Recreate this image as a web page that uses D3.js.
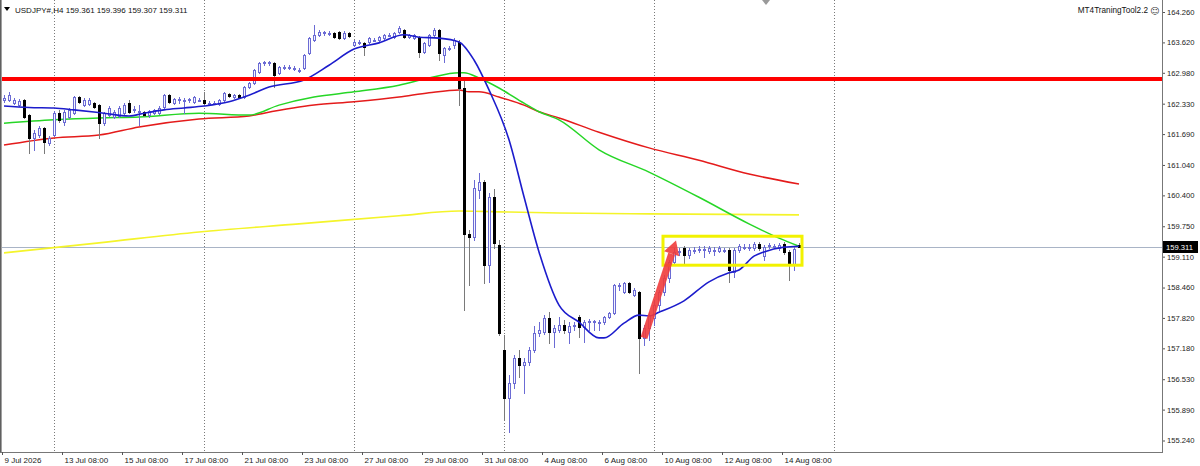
<!DOCTYPE html>
<html><head><meta charset="utf-8">
<script src="https://cdn.jsdelivr.net/npm/d3@7/dist/d3.min.js"></script>
<style>html,body{margin:0;padding:0;background:#fff;}svg{display:block;}</style>
</head><body>
<svg id="c" width="1200" height="466"></svg>
<script>
const symbolTitle = "USDJPY#,H4";
const lastOHLC = [159.361, 159.396, 159.307, 159.311];
const toolName = "MT4TraningTool2.2";

const candleOpen = [162.41,162.41,162.34,162.30,162.41,162.09,161.61,161.67,161.82,161.50,
161.67,162.13,161.94,162.05,162.13,162.47,162.30,162.32,162.34,162.30,
161.92,162.09,162.05,162.07,162.13,162.34,162.20,162.16,162.16,162.09,
162.13,162.13,162.26,162.51,162.34,162.41,162.41,162.41,162.37,162.41,
162.41,162.34,162.34,162.32,162.41,162.53,162.47,162.51,162.47,162.68,
162.77,163.00,163.19,163.19,163.19,162.98,163.10,163.10,163.08,163.04,
163.08,163.40,163.67,163.78,163.82,163.82,163.82,163.84,163.71,163.82,
163.57,163.63,163.61,163.63,163.67,163.67,163.71,163.78,163.73,163.84,
163.88,163.73,163.71,163.73,163.42,163.57,163.78,163.88,163.36,163.48,
163.57,163.63,162.66,159.59,159.52,160.51,160.68,158.93,160.36,159.36,
157.14,156.14,156.45,156.98,156.83,156.89,157.14,157.50,157.52,157.82,
157.52,157.57,157.67,157.52,157.67,157.84,157.63,157.76,157.74,157.74,
157.74,157.84,157.92,158.51,158.37,158.55,158.30,158.37,157.40,157.61,
157.82,158.09,158.37,158.66,159.00,159.21,159.29,159.15,159.25,159.25,
159.27,159.23,159.25,159.23,159.25,159.25,158.79,159.25,159.31,159.31,
159.29,159.38,159.12,159.36,159.33,159.29,159.38,159.21,158.93,159.361];
const candleHigh = [162.51,162.58,162.45,162.43,162.43,162.11,161.78,161.86,161.84,161.65,
162.18,162.20,162.20,162.24,162.49,162.49,162.45,162.45,162.37,162.32,
162.16,162.28,162.20,162.28,162.34,162.41,162.28,162.30,162.18,162.20,
162.22,162.28,162.53,162.53,162.45,162.47,162.45,162.45,162.49,162.45,
162.58,162.39,162.39,162.43,162.58,162.56,162.53,162.53,162.70,162.79,
163.06,163.21,163.23,163.23,163.21,163.12,163.14,163.14,163.12,163.08,
163.38,163.73,163.99,163.88,163.86,163.86,163.84,163.86,163.86,163.84,
163.67,163.67,163.63,163.73,163.71,163.76,163.80,163.82,163.84,163.97,
163.90,163.80,163.80,163.76,163.63,163.80,163.92,163.90,163.52,163.54,
163.71,163.67,162.89,159.67,160.72,160.87,160.72,160.45,160.53,159.46,
157.46,156.62,157.04,157.14,156.98,157.21,157.65,157.74,157.88,157.94,
157.67,157.84,157.78,157.74,157.74,157.88,157.78,157.80,157.78,157.78,
157.86,157.94,158.53,158.55,158.58,158.58,158.45,158.39,157.67,157.94,
158.20,158.41,158.72,159.04,159.29,159.29,159.33,159.29,159.31,159.33,
159.33,159.33,159.31,159.33,159.29,159.29,159.29,159.38,159.38,159.38,
159.42,159.42,159.36,159.40,159.38,159.40,159.42,159.25,159.31,159.396];
const candleLow = [162.37,162.39,162.32,162.28,162.03,161.29,161.36,161.63,161.29,161.46,
161.65,161.94,161.88,162.03,162.11,162.34,162.28,162.30,162.24,161.61,
161.88,162.07,162.03,162.05,162.11,162.13,162.16,161.88,162.07,162.05,
162.11,162.11,162.24,162.34,162.32,162.34,162.13,162.37,162.34,162.39,
162.32,162.30,162.32,162.30,162.39,162.47,162.45,162.45,162.45,162.66,
162.74,162.98,163.14,163.14,162.68,162.96,163.06,163.06,163.04,163.00,
163.06,163.38,163.65,163.76,163.78,163.78,163.71,163.69,163.69,163.73,
163.54,163.59,163.36,163.61,163.65,163.65,163.69,163.76,163.71,163.82,
163.71,163.71,163.69,163.31,163.40,163.54,163.76,163.25,163.21,163.46,
163.50,162.30,157.99,158.51,159.46,160.34,158.55,158.58,159.29,157.46,
155.67,155.42,156.34,156.58,156.24,156.83,157.10,157.44,157.48,157.29,
157.21,157.52,157.50,157.29,157.57,157.42,157.31,157.57,157.57,157.57,
157.69,157.82,157.90,158.41,158.35,158.35,158.28,156.66,157.25,157.36,
157.67,157.99,158.30,158.58,158.93,159.15,158.98,159.08,159.19,159.21,
159.10,159.19,159.15,159.21,159.21,158.58,158.68,159.21,159.27,159.25,
159.25,159.25,159.04,159.29,159.29,159.25,159.17,158.62,158.83,159.307];
const candleClose = [162.45,162.51,162.41,162.39,162.05,161.61,161.71,161.82,161.52,161.61,
162.13,161.99,162.16,162.20,162.47,162.37,162.41,162.41,162.26,161.92,
162.13,162.24,162.16,162.24,162.30,162.16,162.21,162.18,162.09,162.18,
162.20,162.24,162.51,162.37,162.43,162.42,162.41,162.42,162.47,162.41,
162.34,162.35,162.34,162.41,162.56,162.49,162.51,162.47,162.68,162.77,
163.04,163.19,163.20,163.21,162.93,163.10,163.11,163.10,163.09,163.04,
163.36,163.71,163.78,163.84,163.83,163.82,163.73,163.71,163.82,163.76,
163.63,163.63,163.52,163.71,163.67,163.73,163.78,163.78,163.82,163.92,
163.73,163.78,163.78,163.42,163.61,163.78,163.88,163.40,163.50,163.50,
163.67,162.66,159.59,159.52,160.55,160.68,158.93,160.36,159.40,157.50,
156.14,156.45,156.98,156.83,156.89,157.14,157.50,157.57,157.82,157.52,
157.61,157.67,157.57,157.65,157.68,157.63,157.74,157.76,157.75,157.74,
157.84,157.92,158.51,158.52,158.55,158.37,158.41,157.40,157.61,157.88,
158.09,158.37,158.66,159.00,159.21,159.23,159.15,159.25,159.26,159.27,
159.27,159.29,159.25,159.29,159.26,158.83,159.25,159.33,159.32,159.31,
159.38,159.29,159.31,159.36,159.34,159.36,159.21,158.93,159.27,159.311];

// moving averages at sample bars
const blueBars = [0,5,10,14,20,25,28,32,36,40,45,49,53,60,65,70,75,80,83,87,91,94,97,101,104,107,111,115,119,120,124,127,129,131,136,141,145,147,150,152,156,159];
const blueVals = [162.28,162.25,162.24,162.20,162.13,162.07,162.13,162.20,162.24,162.28,162.37,162.51,162.68,162.83,163.14,163.48,163.61,163.78,163.73,163.71,163.63,163.25,162.62,161.57,160.37,159.21,158.09,157.73,157.40,157.40,157.71,157.88,157.86,157.94,158.18,158.58,158.77,158.83,159.12,159.21,159.31,159.33];
const greenBars = [0,10,19,27,39,49,55,62,70,79,85,91,92,95,99,104,107,111,119,129,139,149,155,159];
const greenVals = [161.92,161.99,162.03,162.05,162.13,162.09,162.30,162.47,162.58,162.72,162.87,162.98,162.98,162.87,162.66,162.34,162.16,161.99,161.36,160.89,160.36,159.80,159.50,159.33];
const redBars = [0,10,19,27,39,49,52,62,70,79,85,91,93,95,99,104,107,111,119,129,139,149,159];
const redVals = [161.46,161.61,161.67,161.84,162.01,162.07,162.13,162.30,162.37,162.47,162.56,162.62,162.58,162.58,162.47,162.30,162.16,162.03,161.73,161.40,161.14,160.85,160.64];
const yellowBars = [0,19,39,59,79,91,101,111,129,159];
const yellowVals = [159.19,159.40,159.63,159.80,159.97,160.07,160.05,160.03,160.01,159.99];

const hLinePrice = 162.85;
const boxBars = [131.8, 159.6];
const boxPrices = [159.54, 158.93];
const arrowBars = [128, 134.4];
const arrowPrices = [157.40, 159.45];

const priceTicks = [164.260,163.620,162.980,162.330,161.690,161.040,160.400,159.750,159.110,158.460,157.820,157.180,156.530,155.890,155.240];
const timeTickBars = [0,12,24,36,48,60,72,84,96,108,120,132,144,156];
const timeTickLabels = ["9 Jul 2026","13 Jul 08:00","15 Jul 08:00","17 Jul 08:00","21 Jul 08:00","23 Jul 08:00","27 Jul 08:00","29 Jul 08:00","31 Jul 08:00","4 Aug 08:00","6 Aug 08:00","10 Aug 08:00","12 Aug 08:00","14 Aug 08:00"];
const gridBars = [10,40,70,100,130,166];
const shiftBar = 152.4;

const svg = d3.select("#c");
const W = 1200, H = 466, plotR = 1162, plotB = 452;
const x = d3.scaleLinear().domain([0,159]).range([4,799]);
const y = d3.scaleLinear().domain([155.24,164.26]).range([440.5,12]);
const FONT = "'Liberation Sans', Arial, sans-serif";

// frame
svg.append("rect").attr("x",0).attr("y",0).attr("width",W).attr("height",H).attr("fill","#fff");
svg.append("line").attr("x1",0.5).attr("x2",0.5).attr("y1",0).attr("y2",plotB).attr("stroke","#606060").attr("stroke-width",1);
svg.append("line").attr("x1",1.5).attr("x2",1.5).attr("y1",0).attr("y2",plotB).attr("stroke","#a0a0a0").attr("stroke-width",1);

// grid
const g = svg.append("g");
g.selectAll(".grid").data(gridBars).join("line")
  .attr("x1",d=>Math.round(x(d))+0.5).attr("x2",d=>Math.round(x(d))+0.5)
  .attr("y1",0).attr("y2",plotB)
  .attr("stroke","#7a7a7a").attr("stroke-width",1).attr("stroke-dasharray","1,2");

// chart shift marker
const sx = Math.round(x(shiftBar));
svg.append("path").attr("d",`M${sx-4},0 L${sx+4},0 L${sx},5 Z`).attr("fill","#9a9a9a");

// current price line
svg.append("line").attr("x1",2).attr("x2",plotR).attr("y1",Math.round(y(lastOHLC[3]))+0.5).attr("y2",Math.round(y(lastOHLC[3]))+0.5)
  .attr("stroke","#a9b4c6").attr("stroke-width",1);

// moving averages
function maLine(bars, vals, color, w){
  const pts = bars.map((b,i)=>[x(b), y(vals[i])]);
  svg.append("path").attr("d", d3.line().curve(d3.curveMonotoneX)(pts))
    .attr("fill","none").attr("stroke",color).attr("stroke-width",w).attr("stroke-linejoin","round");
}
maLine(yellowBars, yellowVals, "#f4f42a", 1.6);
maLine(redBars, redVals, "#e41b1b", 1.5);
maLine(greenBars, greenVals, "#26d626", 1.5);

// candles
const cg = svg.append("g").attr("shape-rendering","crispEdges");
candleOpen.forEach((o,i)=>{
  const c = candleClose[i], h = candleHigh[i], l = candleLow[i];
  const xc = Math.round(x(i));
  const bull = c >= o;
  const top = Math.round(y(Math.max(o,c))), bot = Math.round(y(Math.min(o,c)));
  cg.append("line").attr("x1",xc+0.5).attr("x2",xc+0.5).attr("y1",Math.round(y(h))).attr("y2",Math.round(y(l))+1)
    .attr("stroke", bull ? "#6b6bd4" : "#7a7a7a").attr("stroke-width",1);
  if (bull){
    cg.append("rect").attr("x",xc-0.5).attr("y",top+0.5).attr("width",2).attr("height",Math.max(bot-top,1))
      .attr("fill","#f4f4ff").attr("stroke","#6b6bd4").attr("stroke-width",1);
  } else {
    cg.append("rect").attr("x",xc-1).attr("y",top).attr("width",3).attr("height",Math.max(bot-top,1)+1)
      .attr("fill","#000");
  }
});

maLine(blueBars, blueVals, "#1c1ccc", 1.6);

// horizontal red level
svg.append("line").attr("x1",2).attr("x2",plotR).attr("y1",y(hLinePrice)).attr("y2",y(hLinePrice))
  .attr("stroke","#ff0000").attr("stroke-width",4);

// yellow box
svg.append("rect").attr("x",x(boxBars[0])).attr("y",y(boxPrices[0]))
  .attr("width",x(boxBars[1])-x(boxBars[0])).attr("height",y(boxPrices[1])-y(boxPrices[0]))
  .attr("fill","none").attr("stroke","#f2f200").attr("stroke-width",3);

// red arrow
{
  const x1 = x(arrowBars[0]), y1 = y(arrowPrices[0]), x2 = x(arrowBars[1]), y2 = y(arrowPrices[1]);
  const ang = Math.atan2(y2-y1, x2-x1);
  const hl = 14, hw = 8;
  const bx = x2 - hl*Math.cos(ang), by = y2 - hl*Math.sin(ang);
  svg.append("line").attr("x1",x1).attr("y1",y1).attr("x2",bx).attr("y2",by)
    .attr("stroke","#f03c3c").attr("stroke-width",7).attr("stroke-opacity",0.9);
  const px = -Math.sin(ang), py = Math.cos(ang);
  svg.append("path").attr("d",`M${x2},${y2} L${bx+px*hw},${by+py*hw} L${bx-px*hw},${by-py*hw} Z`)
    .attr("fill","#f03c3c").attr("fill-opacity",0.9);
}

// right axis
const ay = svg.append("g").attr("transform",`translate(${plotR},0)`)
  .call(d3.axisRight(y).tickValues(priceTicks).tickFormat(d3.format(".3f")).tickSize(3).tickPadding(2));
ay.select(".domain").remove();
ay.selectAll("line").attr("stroke","#555");
ay.selectAll("text").attr("font-family",FONT).attr("font-size","7.6px").attr("fill","#222");
svg.append("line").attr("x1",plotR+0.5).attr("x2",plotR+0.5).attr("y1",0).attr("y2",plotB+0.5).attr("stroke","#777");

// last price label
const ly = y(lastOHLC[3]);
svg.append("rect").attr("x",plotR+1).attr("y",Math.round(ly)-6).attr("width",35).attr("height",12).attr("fill","#000");
svg.append("text").attr("x",plotR+4).attr("y",ly+3).attr("font-family",FONT).attr("font-size","7.6px").attr("fill","#fff").text(d3.format(".3f")(lastOHLC[3]));

// bottom axis
svg.append("line").attr("x1",0).attr("x2",plotR+1).attr("y1",plotB+0.5).attr("y2",plotB+0.5).attr("stroke","#777");
const ax = svg.append("g").attr("transform",`translate(-2,${plotB})`)
  .call(d3.axisBottom(x).tickValues(timeTickBars).tickFormat((d,i)=>timeTickLabels[i]).tickSize(3).tickPadding(2));
ax.select(".domain").remove();
ax.selectAll("line").attr("stroke","#555");
ax.selectAll("text").attr("text-anchor","start").attr("dx","2px").attr("font-family",FONT).attr("font-size","8px").attr("fill","#222");

// header
svg.append("path").attr("d","M4,7 L10,7 L7,11 Z").attr("fill","#000");
svg.append("text").attr("x",15).attr("y",13).attr("font-family",FONT).attr("font-size","8px").attr("fill","#111")
  .text(symbolTitle + "  " + lastOHLC.map(d3.format(".3f")).join(" "));
svg.append("text").attr("x",1148).attr("y",13).attr("text-anchor","end").attr("font-family",FONT).attr("font-size","8.2px").attr("fill","#111").text(toolName);
svg.append("text").attr("x",1150).attr("y",14).attr("font-family","'DejaVu Sans'").attr("font-size","9px").attr("fill","#333").text("\u263A");
</script>
</body></html>
